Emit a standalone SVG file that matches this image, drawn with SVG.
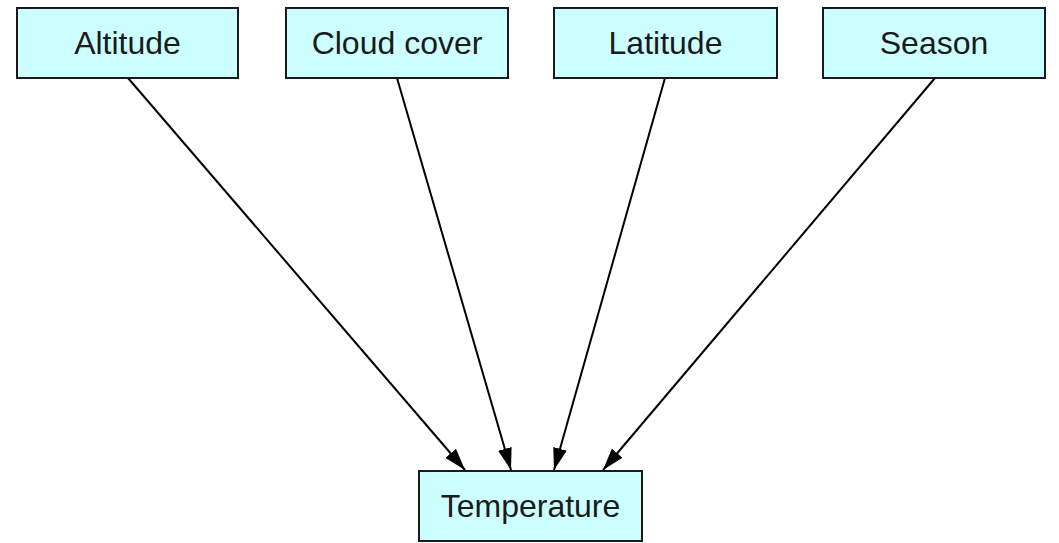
<svg xmlns="http://www.w3.org/2000/svg" width="1059" height="543" viewBox="0 0 1059 543">
<style>
.n rect{fill:#ccffff;stroke:#1a1a1a;stroke-width:2}
.n text{font-family:"Liberation Sans",Arial,sans-serif;font-size:32px;fill:#1a1a1a;text-anchor:middle}
.e line{stroke:#000;stroke-width:2}
</style>
<defs>
<marker id="ah" viewBox="0 0 10 10" refX="10" refY="5" markerWidth="22" markerHeight="14" markerUnits="userSpaceOnUse" orient="auto" preserveAspectRatio="none">
<path d="M0,0L10,5L0,10z" fill="#000"/>
</marker>
</defs>
<rect width="1059" height="543" fill="#fff"/>
<g class="e">
<line x1="128" y1="78" x2="465" y2="470" marker-end="url(#ah)"/>
<line x1="397" y1="78" x2="511" y2="470" marker-end="url(#ah)"/>
<line x1="665" y1="78" x2="554" y2="470" marker-end="url(#ah)"/>
<line x1="935" y1="78" x2="603" y2="470" marker-end="url(#ah)"/>
</g>
<g id="altitude" class="n"><rect x="17" y="8" width="221" height="70"/><text x="127.5" y="54">Altitude</text></g>
<g id="cloud" class="n"><rect x="286" y="8" width="222" height="70"/><text x="397" y="54">Cloud cover</text></g>
<g id="latitude" class="n"><rect x="554" y="8" width="223" height="70"/><text x="665.5" y="54">Latitude</text></g>
<g id="season" class="n"><rect x="823" y="8" width="222" height="70"/><text x="934" y="54">Season</text></g>
<g id="temperature" class="n"><rect x="419" y="471" width="223" height="70"/><text x="530.5" y="517">Temperature</text></g>
</svg>
